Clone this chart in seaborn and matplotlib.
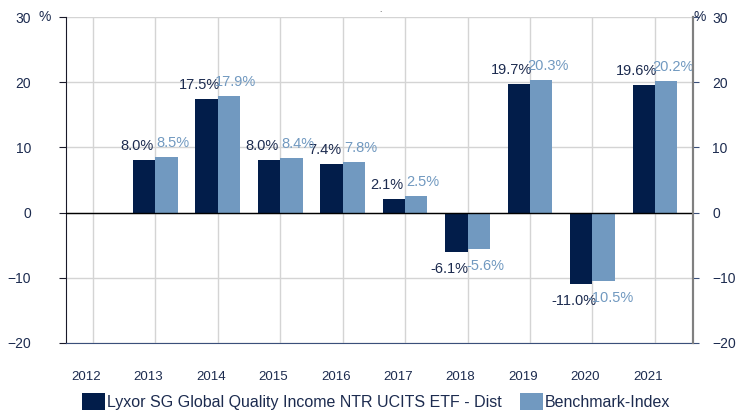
import numpy as np
import pandas as pd
import matplotlib
matplotlib.use("Agg")
import matplotlib.pyplot as plt
import matplotlib.transforms as mtransforms
from matplotlib.patches import Patch
import seaborn as sns

years = ["2012", "2013", "2014", "2015", "2016", "2017", "2018", "2019", "2020", "2021"]
fund = [np.nan, 8.0, 17.5, 8.0, 7.4, 2.1, -6.1, 19.7, -11.0, 19.6]
bench = [np.nan, 8.5, 17.9, 8.4, 7.8, 2.5, -5.6, 20.3, -10.5, 20.2]
fund_name = "Lyxor SG Global Quality Income NTR UCITS ETF - Dist"
bench_name = "Benchmark-Index"

dark = "#021d4a"
light = "#7199c0"
text_dark = "#1c2b4f"

sns.set_style("white")
plt.rcParams["font.family"] = ["Liberation Sans", "DejaVu Sans"]

df = pd.DataFrame({
    "year": years * 2,
    "value": fund + bench,
    "series": [fund_name] * len(years) + [bench_name] * len(years),
})

fig = plt.figure(figsize=(7.36, 4.12), dpi=100)
ax = fig.add_axes([0.0897, 0.1675, 0.9416 - 0.0897, 0.9587 - 0.1675])

sns.barplot(data=df, x="year", y="value", hue="series", order=years,
            hue_order=[fund_name, bench_name], palette=[dark, light],
            width=0.715, saturation=1, errorbar=None, ax=ax, legend=False,
            edgecolor="none")

ax.set_xlim(-0.43, 9.61)
ax.set_ylim(-20, 30)
ax.set_yticks([-20, -10, 0, 10, 20, 30])
ax.set_xlabel("")
ax.set_ylabel("")

# grid lines at the category centres and every 10%
ax.grid(True, axis="both", color="#d4d4d4", linewidth=1)
ax.set_axisbelow(True)
ax.axhline(0, color="black", linewidth=1, zorder=3)

ax.spines["top"].set_visible(False)
ax.spines["left"].set_color("#1a1a2a")
ax.spines["right"].set_color("#808080")
ax.spines["right"].set_linewidth(1.5)
ax.spines["bottom"].set_color("#3a4f7a")

ax.tick_params(axis="x", length=0, labelsize=9.5, colors=text_dark, pad=20)
ax.tick_params(axis="y", length=5, labelsize=10, colors=text_dark, pad=20,
               direction="out", left=True, right=False)
ax.tick_params(axis="y", color="#1a1a2a")

# year labels sit a little left of their gridline in the original
shift = mtransforms.ScaledTranslation(-7 / 100, 0, fig.dpi_scale_trans)
for lbl in ax.get_xticklabels():
    lbl.set_transform(lbl.get_transform() + shift)

# right axis
ax2 = ax.twinx()
ax2.set_ylim(-20, 30)
ax2.set_yticks([-20, -10, 0, 10, 20, 30])
ax2.tick_params(axis="y", length=4, labelsize=10, colors=text_dark, pad=10)
ax2.tick_params(axis="y", color="#3a4f7a")
for s in ["top", "left", "bottom"]:
    ax2.spines[s].set_visible(False)
ax2.spines["right"].set_color("#808080")
ax2.spines["right"].set_linewidth(1.5)

fig.text(0.0611, 0.958, "%", ha="center", va="center", fontsize=10, color=text_dark)
fig.text(0.9505, 0.958, "%", ha="center", va="center", fontsize=10, color=text_dark)
fig.text(0.517, 0.975, ".", ha="center", va="center", fontsize=6, color="#333333")

# value labels
for container, col, dx in zip(ax.containers, [text_dark, light], [-5, 5]):
    for bar in container:
        h = bar.get_height()
        if np.isnan(h):
            continue
        x = bar.get_x() + bar.get_width() / 2
        off = 5 if h >= 0 else -7
        ax.annotate(f"{h:.1f}%", (x, h), xytext=(dx, off),
                    textcoords="offset points", ha="center",
                    va="bottom" if h >= 0 else "top", fontsize=10.5, color=col)

handles = [Patch(facecolor=dark, edgecolor="none"), Patch(facecolor=light, edgecolor="none")]
fig.legend(handles, [fund_name, bench_name], loc="upper left",
           bbox_to_anchor=(0.111, 0.046), ncol=2, frameon=False, fontsize=11.5,
           handlelength=1.45, handleheight=1.25, handletextpad=0.15,
           columnspacing=1.1, borderpad=0, borderaxespad=0, labelcolor=text_dark)

fig.savefig("out.png", dpi=100)
